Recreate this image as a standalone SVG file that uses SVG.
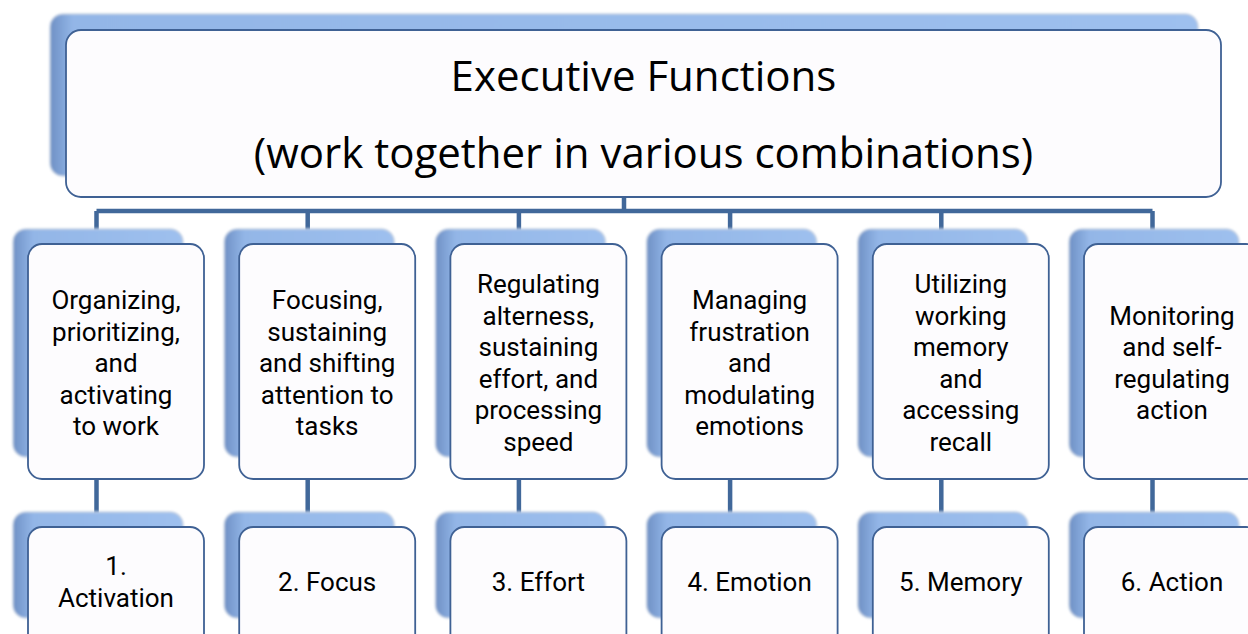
<svg xmlns="http://www.w3.org/2000/svg" width="1248" height="634" viewBox="0 0 1248 634">
<defs>
<linearGradient id="backGrad" x1="0" y1="0" x2="1" y2="0">
<stop offset="0" stop-color="#6f90c4"/>
<stop offset="0.07" stop-color="#84a7da"/>
<stop offset="0.12" stop-color="#93b6e7"/>
<stop offset="1" stop-color="#9ec0ee"/>
</linearGradient>
<linearGradient id="backGradMain" x1="0" y1="0" x2="1" y2="0">
<stop offset="0" stop-color="#6f90c4"/>
<stop offset="0.012" stop-color="#84a7da"/>
<stop offset="0.02" stop-color="#93b6e7"/>
<stop offset="1" stop-color="#9ec0ee"/>
</linearGradient>
<filter id="soft" x="-5%" y="-5%" width="110%" height="110%">
<feGaussianBlur stdDeviation="0.9"/>
</filter>
</defs>
<style>
.back{fill:url(#backGrad);stroke:#c5d2e4;stroke-width:1.5;filter:url(#soft)}
.backMain{fill:url(#backGradMain);stroke:#c5d2e4;stroke-width:1.5;filter:url(#soft)}
.front{fill:#fdfcfe;stroke:#3f6194;stroke-width:1.8}
.conn{stroke:#41689a;stroke-width:4.5;fill:none}
.t{fill:#000;text-anchor:middle}
.title{font-family:"Open Sans","Noto Sans",sans-serif;font-size:42px}
.lbl{font-family:Roboto,"Liberation Sans",sans-serif;font-size:26px}
</style>

<g id="connectors">
<path class="conn" d="M96.5 211 H1152.5 M624 196 V211"/>
<path class="conn" d="M96.5 211 V231 M307.7 211 V231 M518.9 211 V231 M730.1 211 V231 M941.3 211 V231 M1152.5 211 V231"/>
<path class="conn" d="M96.5 478 V514 M307.7 478 V514 M518.9 478 V514 M730.1 478 V514 M941.3 478 V514 M1152.5 478 V514"/>
</g>

<g id="main">
<rect class="backMain" x="50" y="14" width="1148" height="162" rx="13"/>
<rect class="front" x="66" y="30" width="1155" height="167" rx="15"/>
<text class="t title" x="643.5" y="91">Executive Functions</text>
<text class="t title" x="643.5" y="168">(work together in various combinations)</text>
</g>

<g id="col1">
<rect class="back" x="13" y="229" width="170" height="228" rx="13"/>
<rect class="front" x="28" y="244" width="176" height="235" rx="14"/>
<text class="t lbl" x="116" y="309">Organizing,<tspan x="116" dy="31.5">prioritizing,</tspan><tspan x="116" dy="31.5">and</tspan><tspan x="116" dy="31.5">activating</tspan><tspan x="116" dy="31.5">to work</tspan></text>
</g>
<g id="col2">
<rect class="back" x="224.2" y="229" width="170" height="228" rx="13"/>
<rect class="front" x="239.2" y="244" width="176" height="235" rx="14"/>
<text class="t lbl" x="327.2" y="309">Focusing,<tspan x="327.2" dy="31.5">sustaining</tspan><tspan x="327.2" dy="31.5">and shifting</tspan><tspan x="327.2" dy="31.5">attention to</tspan><tspan x="327.2" dy="31.5">tasks</tspan></text>
</g>
<g id="col3">
<rect class="back" x="435.4" y="229" width="170" height="228" rx="13"/>
<rect class="front" x="450.4" y="244" width="176" height="235" rx="14"/>
<text class="t lbl" x="538.4" y="293.25">Regulating<tspan x="538.4" dy="31.5">alterness,</tspan><tspan x="538.4" dy="31.5">sustaining</tspan><tspan x="538.4" dy="31.5">effort, and</tspan><tspan x="538.4" dy="31.5">processing</tspan><tspan x="538.4" dy="31.5">speed</tspan></text>
</g>
<g id="col4">
<rect class="back" x="646.6" y="229" width="170" height="228" rx="13"/>
<rect class="front" x="661.6" y="244" width="176" height="235" rx="14"/>
<text class="t lbl" x="749.6" y="309">Managing<tspan x="749.6" dy="31.5">frustration</tspan><tspan x="749.6" dy="31.5">and</tspan><tspan x="749.6" dy="31.5">modulating</tspan><tspan x="749.6" dy="31.5">emotions</tspan></text>
</g>
<g id="col5">
<rect class="back" x="857.8" y="229" width="170" height="228" rx="13"/>
<rect class="front" x="872.8" y="244" width="176" height="235" rx="14"/>
<text class="t lbl" x="960.8" y="293.25">Utilizing<tspan x="960.8" dy="31.5">working</tspan><tspan x="960.8" dy="31.5">memory</tspan><tspan x="960.8" dy="31.5">and</tspan><tspan x="960.8" dy="31.5">accessing</tspan><tspan x="960.8" dy="31.5">recall</tspan></text>
</g>
<g id="col6">
<rect class="back" x="1069" y="229" width="170" height="228" rx="13"/>
<rect class="front" x="1084" y="244" width="176" height="235" rx="14"/>
<text class="t lbl" x="1172" y="324.75">Monitoring<tspan x="1172" dy="31.5">and self-</tspan><tspan x="1172" dy="31.5">regulating</tspan><tspan x="1172" dy="31.5">action</tspan></text>
</g>

<g id="res1">
<rect class="back" x="13" y="512" width="170" height="106" rx="13"/>
<rect class="front" x="28" y="527" width="176" height="130" rx="14"/>
<text class="t lbl" x="116" y="575">1.<tspan x="116" dy="32">Activation</tspan></text>
</g>
<g id="res2">
<rect class="back" x="224.2" y="512" width="170" height="106" rx="13"/>
<rect class="front" x="239.2" y="527" width="176" height="130" rx="14"/>
<text class="t lbl" x="327.2" y="591">2. Focus</text>
</g>
<g id="res3">
<rect class="back" x="435.4" y="512" width="170" height="106" rx="13"/>
<rect class="front" x="450.4" y="527" width="176" height="130" rx="14"/>
<text class="t lbl" x="538.4" y="591">3. Effort</text>
</g>
<g id="res4">
<rect class="back" x="646.6" y="512" width="170" height="106" rx="13"/>
<rect class="front" x="661.6" y="527" width="176" height="130" rx="14"/>
<text class="t lbl" x="749.6" y="591">4. Emotion</text>
</g>
<g id="res5">
<rect class="back" x="857.8" y="512" width="170" height="106" rx="13"/>
<rect class="front" x="872.8" y="527" width="176" height="130" rx="14"/>
<text class="t lbl" x="960.8" y="591">5. Memory</text>
</g>
<g id="res6">
<rect class="back" x="1069" y="512" width="170" height="106" rx="13"/>
<rect class="front" x="1084" y="527" width="176" height="130" rx="14"/>
<text class="t lbl" x="1172" y="591">6. Action</text>
</g>
</svg>
